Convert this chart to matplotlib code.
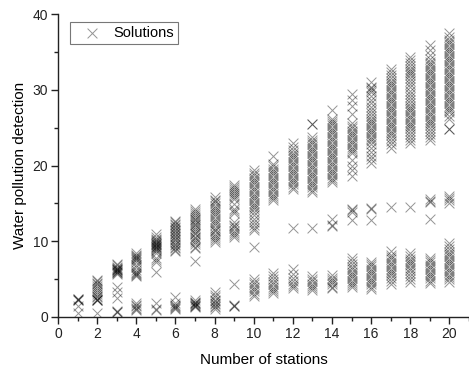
import matplotlib
matplotlib.use("Agg")
import matplotlib.pyplot as plt
from matplotlib.ticker import MultipleLocator

plt.rcParams['font.family'] = ['Liberation Sans', 'DejaVu Sans']

# Detection values of every solution, grouped by number of stations
stations = list(range(1, 21))
s1 = [2.4, 2.4, 2.3, 2.2, 1.5, 0.5]
s2 = [4.9, 4.7, 4.5, 4.3, 4.1, 3.8, 3.5, 3.3, 3.0, 2.8, 2.6, 2.4, 2.3, 2.3, 2.2, 0.5]
s3 = [7.0, 6.8, 6.6, 6.5, 6.4, 6.3, 6.2, 6.2, 6.1, 6.0, 5.9, 5.8, 5.7, 4.0, 3.3, 2.5, 0.8, 0.7, 0.7]
s4 = [8.4, 8.2, 8.0, 7.9, 7.8, 7.7, 7.5, 7.2, 6.9, 6.6, 6.2, 5.9, 5.8, 5.7, 5.5, 5.4,
      1.8, 1.6, 1.4, 1.2, 1.1, 0.9]
s5 = [10.9, 10.5, 10.3, 10.1, 10.0, 9.9, 9.8, 9.7, 9.6, 9.5, 9.4, 9.3, 9.2, 9.1, 9.0, 8.9, 8.7, 8.5,
      7.8, 7.5, 7.3, 5.9, 1.9, 1.0, 0.9]
s6 = [12.7, 12.5, 12.3, 12.1, 11.9, 11.7, 11.5, 11.3, 11.1, 10.9, 10.7, 10.5, 10.3, 10.1, 9.9, 9.7,
      9.5, 9.3, 9.1, 8.9, 8.7, 2.7, 1.8, 1.6, 1.4, 1.3, 1.2, 1.0]
s7 = [14.3, 14.0, 13.7, 13.4, 13.2, 13.0, 12.8, 12.6, 12.3, 12.1, 11.9, 11.6, 11.4, 11.1, 10.9, 10.6,
      10.4, 10.1, 9.9, 9.6, 9.3, 9.1, 7.4, 2.2, 2.0, 1.9, 1.8, 1.7, 1.6, 1.5, 1.4, 1.3]
s8 = [15.8, 15.5, 15.3, 15.0, 14.7, 14.4, 14.1, 13.9, 13.6, 13.3, 13.0, 12.7, 12.4, 12.1, 11.8, 11.5,
      11.3, 11.0, 10.7, 10.4, 10.1, 9.9, 3.3, 2.9, 2.6, 2.3, 2.1, 1.9, 1.7, 1.5, 1.3, 1.1]
s9 = [17.4, 17.1, 16.9, 16.6, 16.4, 16.1, 15.9, 15.6, 14.9, 14.3, 14.0, 13.7, 12.5, 12.2, 12.0, 11.7,
      11.4, 11.1, 10.8, 10.6, 4.4, 1.6, 1.5, 1.4]
s10 = [19.4, 19.0, 18.7, 18.4, 18.1, 17.8, 17.5, 17.2, 16.9, 16.6, 16.3, 16.0, 15.7, 15.4, 15.1, 14.8,
       14.5, 14.2, 13.8, 13.4, 13.0, 12.6, 12.2, 11.8, 11.5, 9.3,
       5.0, 4.6, 4.3, 4.0, 3.7, 3.4, 3.1, 2.8]
s11 = [21.3, 20.2, 19.9, 19.6, 19.3, 19.0, 18.7, 18.4, 18.1, 17.8, 17.5, 17.2, 16.9, 16.6, 16.3, 16.0,
       15.7, 15.4, 5.8, 5.4, 5.0, 4.6, 4.3, 4.0, 3.7, 3.4, 3.2]
s12 = [23.0, 22.4, 22.0, 21.7, 21.4, 21.1, 20.8, 20.5, 20.2, 19.9, 19.6, 19.3, 19.0, 18.7, 18.4, 18.1,
       17.8, 17.5, 17.2, 16.9, 11.8, 6.3, 5.7, 5.2, 4.8, 4.4, 4.1, 3.8]
s13 = [25.5, 25.5, 23.8, 23.4, 23.1, 22.8, 22.5, 22.2, 21.9, 21.6, 21.3, 21.0, 20.7, 20.4, 20.1, 19.8,
       19.5, 19.2, 18.9, 18.6, 18.3, 18.0, 17.7, 17.4, 17.1, 16.8, 16.5, 11.8,
       5.4, 5.0, 4.7, 4.4, 4.1, 3.8, 3.6]
s14 = [27.3, 26.2, 25.9, 25.6, 25.3, 25.0, 24.7, 24.4, 24.1, 23.8, 23.5, 23.2, 22.9, 22.6, 22.3, 22.0,
       21.7, 21.4, 21.1, 20.8, 20.5, 20.2, 19.9, 19.6, 19.3, 19.0, 18.7, 18.4, 18.1, 17.8,
       13.0, 12.1, 12.0, 5.5, 5.2, 4.9, 4.6, 4.3, 4.0, 3.8]
s15 = [29.5, 28.6, 27.8, 26.8, 25.6, 25.2, 24.9, 24.6, 24.3, 24.0, 23.7, 23.4, 23.1, 22.8, 22.5, 22.2,
       21.9, 21.6, 20.7, 20.0, 19.4, 18.6, 14.2, 14.1, 13.8, 12.8,
       7.8, 7.4, 7.0, 6.6, 6.3, 6.0, 5.7, 5.4, 5.1, 4.8, 4.5, 4.2, 3.9]
s16 = [31.0, 30.3, 30.2, 30.0, 29.7, 29.2, 28.7, 28.2, 27.7, 27.3, 26.9, 26.5, 26.2, 25.9, 25.6, 25.3,
       25.0, 24.7, 24.4, 24.1, 23.8, 23.5, 23.2, 22.8, 22.3, 21.8, 21.3, 20.8, 20.3, 14.4, 14.3, 12.8,
       7.3, 7.0, 6.7, 6.4, 6.1, 5.8, 5.5, 5.2, 4.9, 4.6, 4.3, 4.0, 3.7]
s17 = [32.8, 32.3, 31.9, 31.5, 31.2, 30.9, 30.6, 30.3, 30.0, 29.7, 29.4, 29.1, 28.8, 28.5, 28.2, 27.9,
       27.6, 27.3, 27.0, 26.7, 26.4, 26.1, 25.8, 25.5, 25.2, 24.9, 24.6, 24.3, 24.0, 23.6, 23.2, 22.8,
       22.3, 14.5, 8.7, 8.2, 7.9, 7.6, 7.3, 7.0, 6.7, 6.4, 6.1, 5.8, 5.5, 5.2, 4.8, 4.4]
s18 = [34.3, 33.9, 33.5, 33.1, 32.8, 32.5, 32.2, 31.9, 31.5, 31.1, 30.7, 30.3, 29.9, 29.5, 29.1, 28.7,
       28.3, 27.9, 27.6, 27.3, 27.0, 26.7, 26.4, 26.1, 25.8, 25.5, 25.2, 24.9, 24.6, 24.2, 23.8, 23.4,
       23.0, 14.5, 8.4, 8.0, 7.7, 7.4, 7.1, 6.8, 6.5, 6.2, 5.8, 5.4, 5.0, 4.6]
s19 = [35.9, 35.2, 34.6, 34.1, 33.7, 33.4, 33.1, 32.8, 32.5, 32.2, 31.9, 31.6, 31.3, 31.0, 30.7, 30.4,
       30.1, 29.8, 29.5, 29.2, 28.9, 28.6, 28.3, 28.0, 27.7, 27.4, 27.1, 26.8, 26.5, 26.2, 25.9, 25.6,
       25.3, 25.0, 24.6, 24.2, 23.8, 23.4, 15.6, 15.3, 15.2, 13.0,
       7.8, 7.5, 7.2, 6.9, 6.6, 6.3, 6.0, 5.7, 5.4, 5.1, 4.8, 4.5]
s20 = [37.5, 37.0, 36.6, 36.3, 36.0, 35.7, 35.4, 35.1, 34.8, 34.5, 34.2, 33.9, 33.6, 33.3, 33.0, 32.7,
       32.4, 32.1, 31.8, 31.5, 31.2, 30.9, 30.6, 30.3, 30.0, 29.7, 29.4, 29.1, 28.8, 28.5, 28.2, 27.9,
       27.6, 27.3, 27.0, 26.6, 26.2, 24.8, 24.8, 16.0, 15.7, 15.5, 15.0,
       9.8, 9.4, 9.0, 8.6, 8.3, 8.0, 7.7, 7.4, 7.1, 6.8, 6.5, 6.2, 5.9, 5.6, 5.3, 5.0, 4.6]
detections = [s1, s2, s3, s4, s5, s6, s7, s8, s9, s10, s11, s12, s13, s14, s15, s16, s17, s18, s19, s20]

xs = [n for n, vals in zip(stations, detections) for _ in vals]
ys = [v for vals in detections for v in vals]

fig = plt.figure(figsize=(4.69, 3.71), dpi=100)
ax = fig.add_axes([58 / 469, 54 / 371, 411 / 469, 303 / 371])

ax.scatter(xs, ys, marker='x', s=50, linewidths=0.7, color='black', alpha=0.42,
           label='Solutions')

ax.set_xlim(0, 21)
ax.set_ylim(0, 40)
ax.xaxis.set_major_locator(MultipleLocator(2))
ax.xaxis.set_minor_locator(MultipleLocator(1))
ax.yaxis.set_major_locator(MultipleLocator(10))
ax.yaxis.set_minor_locator(MultipleLocator(5))

for side in ('top', 'right'):
    ax.spines[side].set_visible(False)
for side in ('left', 'bottom'):
    ax.spines[side].set_linewidth(1.0)
    ax.spines[side].set_color('#222222')

ax.tick_params(which='major', direction='out', length=5, width=1.0, labelsize=10,
               colors='#222222', pad=2.0)
ax.tick_params(which='minor', direction='out', length=3, width=1.0, colors='#222222')

ax.set_xlabel('Number of stations', fontsize=11, labelpad=9)
ax.set_ylabel('Water pollution detection', fontsize=11, labelpad=4)

leg = ax.legend(loc='upper left', bbox_to_anchor=(0.03, 0.975), fontsize=10.5, frameon=True,
                fancybox=False, edgecolor='#555555', handlelength=2.4, handletextpad=0.25,
                borderpad=0.3, borderaxespad=0.0, scatterpoints=1)
leg.get_frame().set_linewidth(0.8)

fig.savefig('out.png', dpi=100)
